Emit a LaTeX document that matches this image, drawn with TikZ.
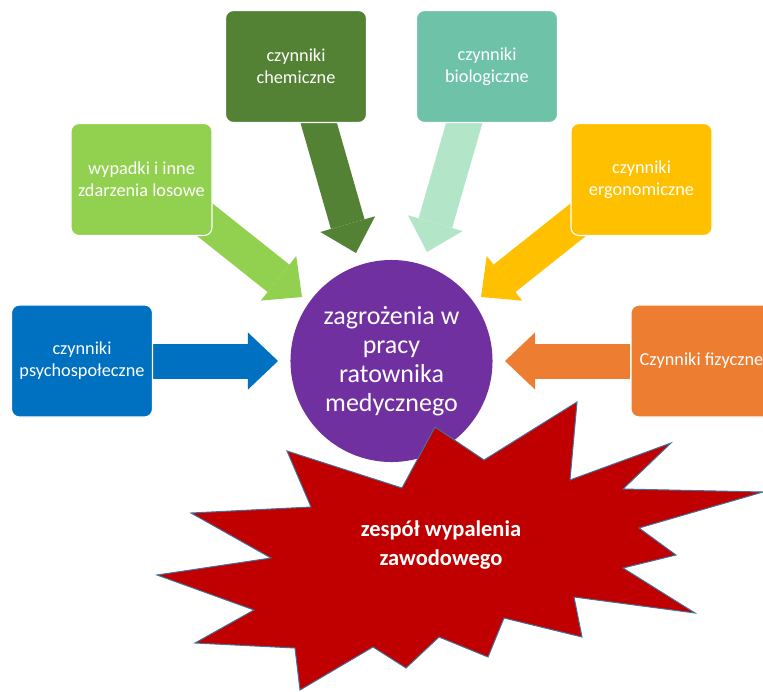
\documentclass[tikz,border=0pt]{standalone}
\usepackage{fontspec}
\setmainfont{Carlito}
\definecolor{zgBlue}{HTML}{0070C0}
\definecolor{zgLime}{HTML}{92D050}
\definecolor{zgMoss}{HTML}{548235}
\definecolor{zgTeal}{HTML}{6DC2A8}
\definecolor{zgMint}{HTML}{B3E6C8}
\definecolor{zgGold}{HTML}{FFC000}
\definecolor{zgOrange}{HTML}{ED7D31}
\definecolor{zgPurple}{HTML}{7030A0}
\definecolor{zgRed}{HTML}{C00000}
\definecolor{zgEdge}{HTML}{41719C}
\usetikzlibrary{arrows.meta, backgrounds}

\begin{document}
\begin{tikzpicture}[x=0.025cm, y=-0.025cm,
  fb/.style={rounded corners=0.2cm, minimum width=3.525cm, minimum height=2.8cm,
    draw=white, line width=0.8pt, text=white, align=center, inner sep=2pt,
    font=\fontsize{13}{15.6}\selectfont},
  ba/.style={line width=0.875cm,
    -{Triangle[length=0.75cm, width=1.425cm, line width=0pt]}}]
  \useasboundingbox (0,0) rectangle (763,691);
  \clip (0,0) rectangle (763,691);
  \node[fb, fill=zgBlue] (psy) at (82,361) {czynniki\\psychospołeczne};
  \node[fb, fill=zgLime] (wyp) at (141.5,179.5) {wypadki i inne\\zdarzenia losowe};
  \node[fb, fill=zgMoss] (chem) at (296,66.5) {czynniki\\chemiczne};
  \node[fb, fill=zgTeal] (bio) at (487,66.5) {czynniki\\biologiczne};
  \node[fb, fill=zgGold] (ergo) at (641.5,179.5) {czynniki\\ergonomiczne};
  \node[fb, fill=zgOrange] (fiz) at (701.5,361) {Czynniki fizyczne};
  \node[circle, fill=zgPurple, minimum size=5.05cm, text=white, align=center,
    font=\fontsize{18.5}{20.5}\selectfont] (hub) at (391.5,361)
    {zagrożenia w\\pracy\\ratownika\\medycznego};
  \coordinate (psyT) at (278,361);
  \coordinate (fizT) at (505,361);
  \coordinate (wypS) at (180,200);
  \coordinate (wypT) at (302,297);
  \coordinate (ergoS) at (603,200);
  \coordinate (ergoT) at (481,297);
  \coordinate (chemS) at (315,110);
  \coordinate (chemT) at (356,253);
  \coordinate (bioS) at (468,110);
  \coordinate (bioT) at (427,252);
  \begin{scope}[on background layer]
    \draw[ba, zgBlue] (psy.east) -- (psyT);
    \draw[ba, zgOrange] (fiz.west) -- (fizT);
    \draw[ba, zgLime] (wypS) -- (wypT);
    \draw[ba, zgGold] (ergoS) -- (ergoT);
    \draw[ba, zgMoss] (chemS) -- (chemT);
    \draw[ba, zgMint] (bioS) -- (bioT);
  \end{scope}
  \draw[fill=zgRed, draw=zgEdge, line width=0.7pt]
    (577,402) -- (570,480) -- (671,443) -- (623,489) -- (763,492) -- (639,528)
    -- (676,555) -- (623,568) -- (695,613) -- (574,597) -- (582,637) -- (504,618)
    -- (488,657) -- (439,637) -- (406,668) -- (373,647) -- (300,690) -- (295,648)
    -- (195,643) -- (254,610) -- (157,575) -- (271,558) -- (191,513) -- (311,507)
    -- (287,451) -- (402,488) -- (435,427) -- (484,460) -- cycle;
  \node[text=white, align=center, font=\bfseries\fontsize{16}{21}\selectfont]
    (burn) at (441,545) {zespół wypalenia\\zawodowego};
\end{tikzpicture}
\end{document}
